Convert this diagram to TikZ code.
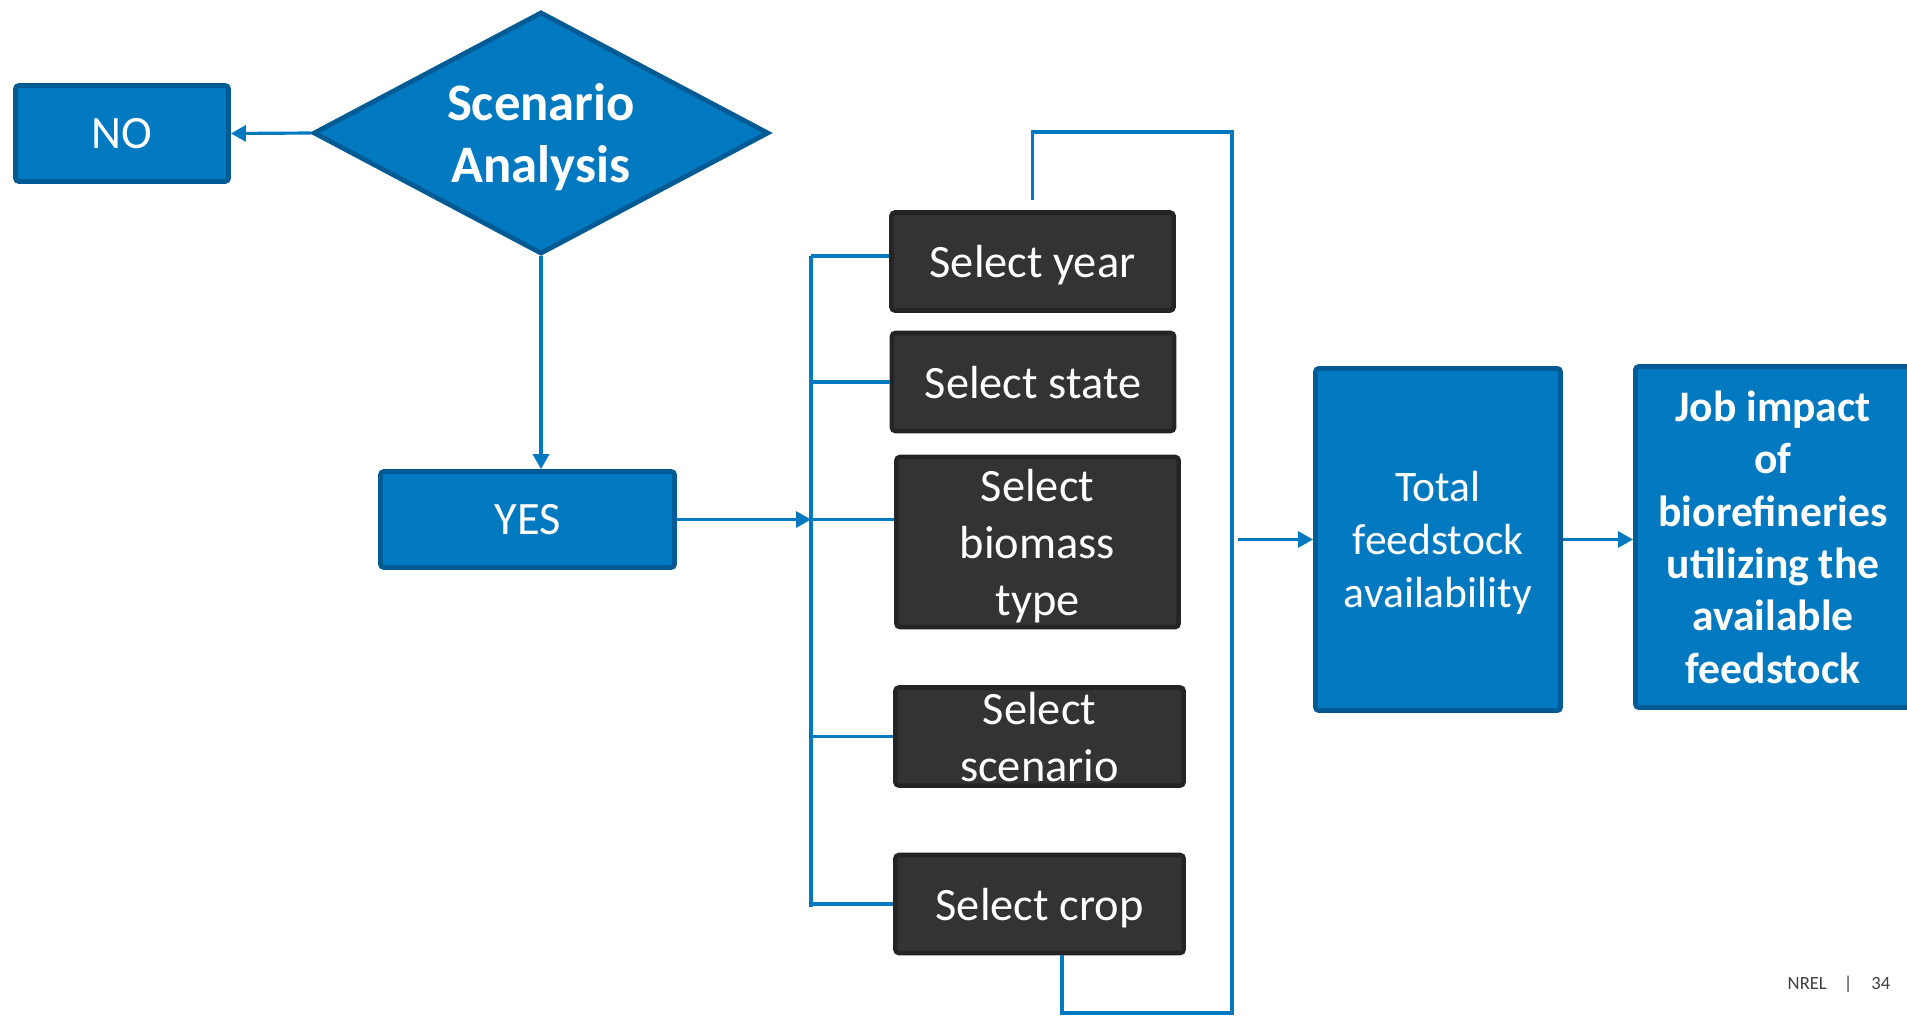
\documentclass[tikz,border=0pt]{standalone}
\usepackage{fontspec}
\setmainfont{Carlito}
\usepackage{tikz}
\usetikzlibrary{shapes.geometric, arrows.meta, positioning}
\definecolor{nrelblue}{RGB}{0,121,193}
\definecolor{nreldark}{RGB}{0,90,148}
\definecolor{boxgray}{RGB}{51,51,51}
\definecolor{boxedge}{RGB}{36,36,36}

\begin{document}
\begin{tikzpicture}[
    x=0.01cm, y=-0.01cm,
    bluebox/.style={rectangle, draw=nreldark, fill=nrelblue, line width=1.35pt, align=center, rounded corners=1pt, text=white, inner sep=0pt, text depth=0pt, font=\fontsize{13.2}{16.2}\selectfont},
    selectbox/.style={rectangle, draw=boxedge, fill=boxgray, line width=1.3pt, minimum width=2.82cm, minimum height=0.98cm, align=center, rounded corners=1pt, text=white, inner sep=0pt, text depth=0pt, font=\fontsize{13.2}{16.2}\selectfont},
    decision/.style={diamond, draw=nreldark, fill=nrelblue, line width=1.35pt, aspect=1.86, minimum width=4.55cm, minimum height=2.42cm, inner sep=0pt, align=center, text=white, text depth=0pt, font=\fontsize{15}{17.9}\selectfont\bfseries},
    arrow/.style={-{Triangle[length=0.15cm, width=0.16cm]}, line width=0.9pt, nrelblue},
    link/.style={line width=0.9pt, nrelblue},
    footer/.style={text=black!75, inner sep=0pt, font=\fontsize{5.3}{6}\selectfont},
]
    \useasboundingbox (0,0) rectangle (1907,1015);

    % decision and its two outcomes
    \node[decision] (scen) at (541,133) {Scenario\\Analysis};
    \node[bluebox, minimum width=2.13cm, minimum height=0.96cm] (no) at (122,133.5) {NO};
    \node[bluebox, minimum width=2.94cm, minimum height=0.96cm] (yes) at (527.5,519.5) {YES};

    % selection steps
    \node[selectbox] (year) at (1032.5,261.5) {Select year};
    \node[selectbox] (state) at (1033,382) {Select state};
    \node[selectbox, minimum height=1.70cm] (biomass) at (1037.5,542) {Select\\biomass\\type};
    \node[selectbox, minimum width=2.88cm] (scenario) at (1039.5,736.5) {Select\\scenario};
    \node[selectbox, minimum width=2.88cm] (crop) at (1039.5,904) {Select crop};

    % results
    \node[bluebox, minimum width=2.45cm, minimum height=3.42cm, font=\fontsize{12.4}{15.1}\selectfont] (total) at (1438,539.5) {Total\\feedstock\\availability};
    \node[bluebox, minimum width=2.75cm, minimum height=3.41cm, font=\fontsize{12.4}{14.9}\selectfont\bfseries] (job) at (1773,537) {Job impact\\of\\biorefineries\\utilizing the\\available\\feedstock};

    \node[footer, anchor=west] (page) at (1787,984) {NREL\hspace{0.17cm}|\hspace{0.19cm}34};

    \coordinate (busT) at (811,256);
    \coordinate (busB) at (811,907);
    \coordinate (loopT) at (1232,132);
    \coordinate (loopB) at (1232,1013);

    \draw[arrow] (scen.west) -- (no.east);
    \draw[arrow] (scen.south) -- (scen.south |- yes.north);
    \draw[arrow] (yes.east) -- (yes.east -| busT);

    % bracket to the selection steps
    \draw[link] (busT) -- (busB);
    \draw[link] (busT) -- (busT -| year.west);
    \draw[link] (busT |- state.west) -- (state.west);
    \draw[link] (yes.east -| busT) -- (yes.east -| biomass.west);
    \draw[link] (busT |- scenario.west) -- (scenario.west);
    \draw[link] (busT |- crop.west) -- (crop.west);

    % loop round the steps
    \draw[link] ([yshift=0.1cm]year.north) |- (loopT) -- (loopB) -| ([xshift=0.225cm]crop.south);
    \draw[arrow] ([xshift=0.06cm]loopT |- total.west) -- (total.west);
    \draw[arrow] (total.east) -- (total.east -| job.west);
\end{tikzpicture}
\end{document}
